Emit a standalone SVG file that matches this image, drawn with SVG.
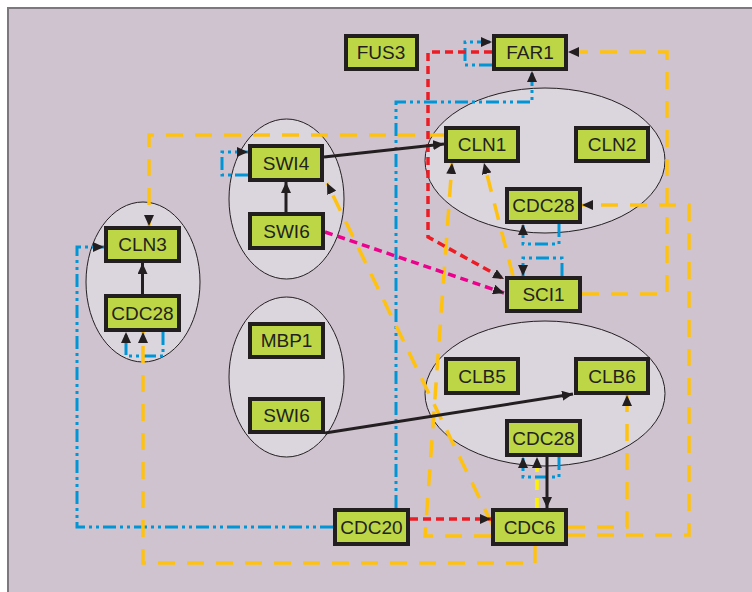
<svg xmlns="http://www.w3.org/2000/svg" width="752" height="592" viewBox="0 0 752 592">
<defs>
<style>
.cl{fill:#dbd5de;stroke:#231f20;stroke-width:1}
.nd rect{fill:#bdd645;stroke:#231f20;stroke-width:4}
.nd text{font-family:"Liberation Sans",Arial,sans-serif;font-size:19px;fill:#231f20;text-anchor:middle}
.c{fill:none}
.k{stroke:#231f20;stroke-width:3}
.y{stroke:#ffc20e;stroke-width:3.5;stroke-dasharray:17 12}
.yb{stroke:#fff200;stroke-width:3.5;stroke-dasharray:10 8}
.r{stroke:#ed1c24;stroke-width:3.5;stroke-dasharray:8 5}
.m{stroke:#ec008c;stroke-width:3.5;stroke-dasharray:8 5}
.b{stroke:#0096d6;stroke-width:3;stroke-dasharray:13 4 3 4 3 4}
</style>
<marker id="a" markerUnits="userSpaceOnUse" markerWidth="11" markerHeight="10" refX="11" refY="5" orient="auto">
<path d="M0,0 L11,5 L0,10 z" fill="#231f20"/>
</marker>
</defs>
<rect x="0" y="0" width="752" height="592" fill="#ffffff"/>
<rect x="8" y="8" width="760" height="600" fill="#cfc3d0" stroke="#7d787e" stroke-width="2"/>
<g id="clusters">
<ellipse class="cl" cx="286.5" cy="199" rx="57.5" ry="80"/>
<ellipse class="cl" cx="143" cy="282" rx="57" ry="80"/>
<ellipse class="cl" cx="286.5" cy="377" rx="57.5" ry="80"/>
<ellipse class="cl" cx="545" cy="160.5" rx="120" ry="72.5"/>
<ellipse class="cl" cx="545" cy="393.5" rx="120" ry="72.5"/>
</g>
<g id="connectors" class="c">
<path class="b" d="M492,65 L465,65 L465,42 L492,42" marker-end="url(#a)"/>
<path class="b" d="M248,175 L222,175 L222,152 L248,152" marker-end="url(#a)"/>
<path class="b" d="M396,508 L396,102 L532,102 L532,71" marker-end="url(#a)"/>
<path class="b" d="M333,527 L77,527 L77,247 L104,247" marker-end="url(#a)"/>
<path class="b" d="M163,332 L163,356 L126,356 L126,332" marker-end="url(#a)"/>
<path class="b" d="M559,224 L559,244 L523,244 L523,224" marker-end="url(#a)"/>
<path class="b" d="M562,276 L562,258 L523,258 L523,276" marker-end="url(#a)"/>
<path class="b" d="M559,457 L559,477 L523,477 L523,457" marker-end="url(#a)"/>
<path class="y" d="M444,135 L149,135 L149,226" marker-end="url(#a)"/>
<path class="y" d="M535,546 L535,563 L143,563 L143,332" marker-end="url(#a)"/>
<path class="y" d="M582,294 L667,294 L667,52 L568,52" marker-end="url(#a)"/>
<path class="y" d="M568,535 L689,535 L689,205 L582,205" marker-end="url(#a)"/>
<path class="y" d="M568,527 L627,527 L627,395" marker-end="url(#a)"/>
<path class="yb" d="M537,508 L537,457" marker-end="url(#a)"/>
<path class="y" d="M513,276 L484,163" marker-end="url(#a)"/>
<path class="y" d="M491,536 L425,536 L452,163" marker-end="url(#a)"/>
<path class="y" d="M492,524 L327,183" marker-end="url(#a)"/>
<path class="r" d="M492,52 L428,52 L428,237 L504,279" marker-end="url(#a)"/>
<path class="r" d="M410,519 L491,519" marker-end="url(#a)"/>
<path class="m" d="M325,232 L504,293" marker-end="url(#a)"/>
<path class="k" d="M286,212 L286,182" marker-end="url(#a)"/>
<path class="k" d="M142.5,294 L142.5,263" marker-end="url(#a)"/>
<path class="k" d="M324,157 L444,144" marker-end="url(#a)"/>
<path class="k" d="M325,433 L573,394" marker-end="url(#a)"/>
<path class="k" d="M547,457 L547,508" marker-end="url(#a)"/>
</g>
<g id="FUS3" class="nd"><rect x="346" y="36" width="71" height="33"/><text x="381" y="59">FUS3</text></g>
<g id="FAR1" class="nd"><rect x="494" y="36" width="72" height="33"/><text x="530" y="59">FAR1</text></g>
<g id="CLN1" class="nd"><rect x="446" y="128" width="72" height="33"/><text x="482" y="151">CLN1</text></g>
<g id="CLN2" class="nd"><rect x="576" y="128" width="72" height="33"/><text x="612" y="151">CLN2</text></g>
<g id="SWI4" class="nd"><rect x="250" y="146" width="72" height="34"/><text x="286" y="170">SWI4</text></g>
<g id="SWI6a" class="nd"><rect x="250" y="214" width="73" height="34"/><text x="286.5" y="238">SWI6</text></g>
<g id="CLN3" class="nd"><rect x="106" y="228" width="73" height="33"/><text x="142.5" y="251">CLN3</text></g>
<g id="CDC28L" class="nd"><rect x="106" y="296" width="73" height="34"/><text x="142.5" y="320">CDC28</text></g>
<g id="MBP1" class="nd"><rect x="250" y="324" width="73" height="33"/><text x="286.5" y="347">MBP1</text></g>
<g id="SWI6b" class="nd"><rect x="250" y="399" width="73" height="33"/><text x="286.5" y="422">SWI6</text></g>
<g id="CDC28a" class="nd"><rect x="507" y="189" width="73" height="33"/><text x="543.5" y="212">CDC28</text></g>
<g id="SCI1" class="nd"><rect x="507" y="278" width="73" height="33"/><text x="543.5" y="301">SCI1</text></g>
<g id="CLB5" class="nd"><rect x="446" y="359" width="72" height="34"/><text x="482" y="383">CLB5</text></g>
<g id="CLB6" class="nd"><rect x="576" y="359" width="72" height="34"/><text x="612" y="383">CLB6</text></g>
<g id="CDC28b" class="nd"><rect x="507" y="421" width="73" height="34"/><text x="543.5" y="445">CDC28</text></g>
<g id="CDC6" class="nd"><rect x="493" y="510" width="73" height="34"/><text x="529.5" y="534">CDC6</text></g>
<g id="CDC20" class="nd"><rect x="335" y="510" width="73" height="34"/><text x="371.5" y="534">CDC20</text></g>
</svg>
